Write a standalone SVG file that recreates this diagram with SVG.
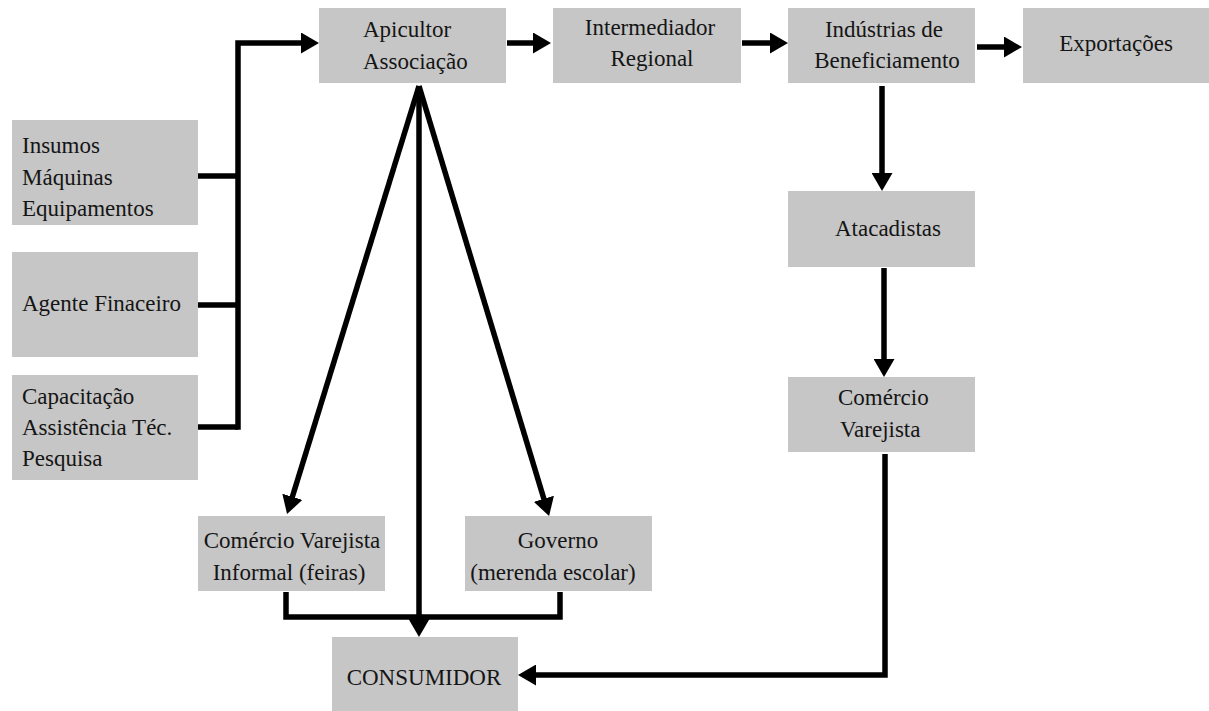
<svg xmlns="http://www.w3.org/2000/svg" width="1209" height="711" viewBox="0 0 1209 711">
<style>
.box{fill:#c6c6c6}
text{font-family:'Liberation Serif','Times New Roman',Times,serif;font-size:23px;fill:#151515}
.t{text-anchor:middle}
.tl{text-anchor:start}
.c{fill:none;stroke:#000;stroke-width:5.5;stroke-linejoin:miter}
</style>
<defs>
<marker id="ah" markerUnits="userSpaceOnUse" markerWidth="19" markerHeight="21" refX="7" refY="10.5" orient="auto" viewBox="0 0 19 21">
<path d="M0,0 L18,10.5 L0,21 z" fill="#000"/>
</marker>
</defs>
<rect width="1209" height="711" fill="#fff"/>
<g id="apicultor"><rect class="box" x="319" y="8" width="187" height="75"/><text class="tl" x="363" y="37">Apicultor</text><text class="tl" x="363" y="69">Associação</text></g>
<g id="intermediador"><rect class="box" x="553" y="8" width="188" height="75"/><text class="t" x="650" y="35">Intermediador</text><text class="t" x="652" y="66">Regional</text></g>
<g id="industrias"><rect class="box" x="788" y="8" width="187" height="75"/><text class="t" x="884" y="37">Indústrias de</text><text class="t" x="887" y="68">Beneficiamento</text></g>
<g id="exportacoes"><rect class="box" x="1023" y="8" width="186" height="75"/><text class="t" x="1116" y="51">Exportações</text></g>
<g id="insumos"><rect class="box" x="12" y="120" width="186" height="105"/><text class="tl" x="22" y="153">Insumos</text><text class="tl" x="22" y="185">Máquinas</text><text class="tl" x="22" y="216">Equipamentos</text></g>
<g id="agente"><rect class="box" x="12" y="252" width="186" height="105"/><text class="tl" x="22" y="311">Agente Finaceiro</text></g>
<g id="capacitacao"><rect class="box" x="12" y="375" width="186" height="105"/><text class="tl" x="22" y="404">Capacitação</text><text class="tl" x="22" y="435">Assistência Téc.</text><text class="tl" x="22" y="466">Pesquisa</text></g>
<g id="atacadistas"><rect class="box" x="788" y="191" width="187" height="76"/><text class="t" x="888" y="236">Atacadistas</text></g>
<g id="comercio"><rect class="box" x="788" y="377" width="187" height="75"/><text class="tl" x="838" y="405">Comércio</text><text class="tl" x="840" y="437">Varejista</text></g>
<g id="informal"><rect class="box" x="198" y="516" width="187" height="75"/><text class="t" x="292" y="548">Comércio Varejista</text><text class="t" x="289" y="580">Informal (feiras)</text></g>
<g id="governo"><rect class="box" x="465" y="516" width="187" height="75"/><text class="t" x="558" y="548">Governo</text><text class="t" x="553" y="580">(merenda escolar)</text></g>
<g id="consumidor"><rect class="box" x="332" y="637" width="186" height="74"/><text class="t" x="424" y="685">CONSUMIDOR</text></g>
<g id="connectors">
<path class="c" d="M198,176 H238 M198,305 H238 M198,427 H238"/>
<path class="c" d="M238,429.75 V43 H308" marker-end="url(#ah)"/>
<path class="c" d="M507,43 H540" marker-end="url(#ah)"/>
<path class="c" d="M742,43 H777" marker-end="url(#ah)"/>
<path class="c" d="M977,47 H1011" marker-end="url(#ah)"/>
<path class="c" d="M882,86 V180" marker-end="url(#ah)"/>
<path class="c" d="M884,268 V366" marker-end="url(#ah)"/>
<path class="c" d="M419,86 L290.3,503.5" marker-end="url(#ah)"/>
<path class="c" d="M419,86 L545.9,505.5" marker-end="url(#ah)"/>
<path class="c" d="M419,86 V626" marker-end="url(#ah)"/>
<path class="c" d="M286,592 V617 H560 V592"/>
<path class="c" d="M885,454 V675 H529" marker-end="url(#ah)"/>
</g>
</svg>
